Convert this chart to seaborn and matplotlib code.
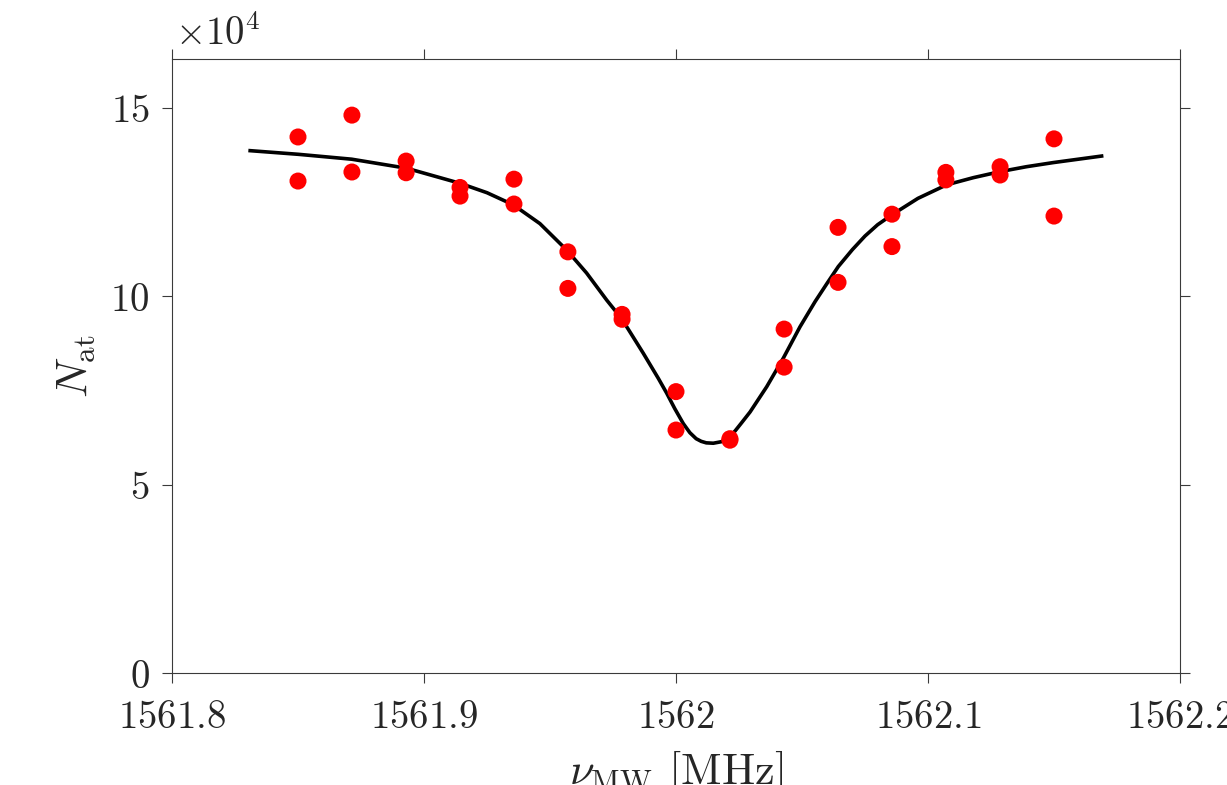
import numpy as np
import pandas as pd
import matplotlib
matplotlib.use("Agg")
import matplotlib.pyplot as plt
import seaborn as sns

# ---- data (N_at in units of 1e4) ----
freq_meas = [1561.8500, 1561.8500, 1561.8714, 1561.8714, 1561.8929, 1561.8929,
             1561.9143, 1561.9143, 1561.9357, 1561.9357, 1561.9571, 1561.9571,
             1561.9786, 1561.9786, 1562.0000, 1562.0000, 1562.0214, 1562.0214,
             1562.0429, 1562.0429, 1562.0643, 1562.0643, 1562.0857, 1562.0857,
             1562.1071, 1562.1071, 1562.1286, 1562.1286, 1562.1500, 1562.1500]
n_meas = [14.23, 13.06, 14.81, 13.30, 13.59, 13.28,
          12.89, 12.66, 13.11, 12.45, 11.18, 10.21,
          9.52, 9.39, 7.47, 6.45, 6.22, 6.18,
          9.13, 8.12, 11.83, 10.37, 12.18, 11.32,
          13.29, 13.09, 13.44, 13.22, 14.18, 12.13]

freq_fit = [1561.8303, 1561.8501, 1561.8713, 1561.8931, 1561.9143, 1561.9250,
            1561.9354, 1561.9460, 1561.9566, 1561.9645, 1561.9725, 1561.9785,
            1561.9870, 1561.9930, 1561.9963, 1561.9995, 1562.0029, 1562.0055,
            1562.0080, 1562.0100, 1562.0120, 1562.0148, 1562.0180, 1562.0214,
            1562.0235, 1562.0260, 1562.0294, 1562.0360, 1562.0426, 1562.0492,
            1562.0552, 1562.0600, 1562.0644, 1562.0700, 1562.0750, 1562.0800,
            1562.0856, 1562.0960, 1562.1074, 1562.1180, 1562.1286, 1562.1390,
            1562.1497, 1562.1696]
n_fit = [13.87, 13.77, 13.64, 13.40, 13.00, 12.75,
         12.43, 11.93, 11.23, 10.62, 9.90, 9.40,
         8.49, 7.82, 7.43, 7.02, 6.62, 6.38,
         6.22, 6.15, 6.11, 6.10, 6.14, 6.27,
         6.43, 6.64, 6.93, 7.60, 8.36, 9.19,
         9.86, 10.35, 10.79, 11.24, 11.60, 11.90,
         12.16, 12.60, 12.96, 13.15, 13.31, 13.44,
         13.55, 13.73]

x_ticks = [1561.8, 1561.9, 1562.0, 1562.1, 1562.2]
x_ticklabels = ["1561.8", "1561.9", "1562", "1562.1", "1562.2"]
y_ticks = [0, 5, 10, 15]
y_ticklabels = ["0", "5", "10", "15"]

meas = pd.DataFrame({"freq": freq_meas, "N": n_meas})
fit = pd.DataFrame({"freq": freq_fit, "N": n_fit})

sns.set_theme(style="white")
plt.rcParams["mathtext.fontset"] = "cm"
plt.rcParams["font.family"] = ["DejaVu Serif"]

fig = plt.figure(figsize=(12.27, 7.85), dpi=100)
ax = fig.add_axes([172/1227, 1 - 673/785, (1180-172)/1227, (673-59)/785])

line = sns.lineplot(data=fit, x="freq", y="N", ax=ax, color="black", lw=2.6,
                    sort=False, estimator=None)
for ln in ax.lines:
    ln.set_solid_joinstyle("round")
    ln.set_solid_capstyle("butt")
sns.scatterplot(data=meas, x="freq", y="N", ax=ax, color="#ff0000", s=150,
                edgecolor="none", linewidth=0, zorder=3)

ax.set_xlim(1561.8, 1562.2)
ax.set_ylim(0, 16.30)
ax.set_xticks(x_ticks)
ax.set_xticklabels(["$" + t + "$" for t in x_ticklabels])
ax.set_yticks(y_ticks)
ax.set_yticklabels(["$" + t + "$" for t in y_ticklabels])

spine_col = "#3a3a3a"
for s in ax.spines.values():
    s.set_visible(True)
    s.set_color(spine_col)
    s.set_linewidth(0.8)

ax.tick_params(axis="both", which="both", direction="out", length=7, width=0.8,
               color=spine_col, labelsize=28, labelcolor="#262626",
               top=True, right=True, labeltop=False, labelright=False,
               bottom=True, left=True)
ax.tick_params(axis="x", pad=12)
ax.tick_params(axis="y", pad=9)

ax.set_xlabel(r"$\nu_{\rm MW}$ $[\rm MHz]$", fontsize=32, color="#262626", labelpad=9)
ax.set_ylabel(r"$N_{\rm at}$", fontsize=32, color="#262626", labelpad=10)

ax.text(0.003, 1.022, r"$\times10^4$", transform=ax.transAxes, fontsize=28,
        color="#262626", ha="left", va="baseline")

ax.set_facecolor("white")
fig.patch.set_facecolor("white")
fig.savefig("out.png", dpi=100, facecolor="white")
